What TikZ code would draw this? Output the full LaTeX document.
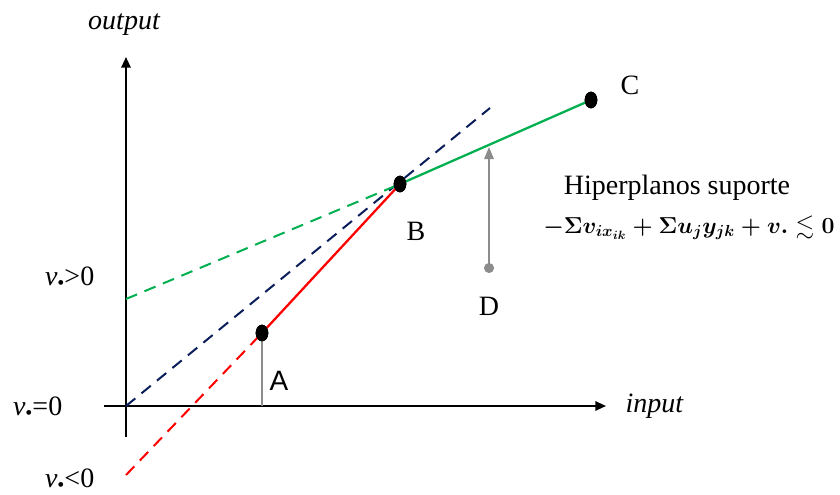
\documentclass[tikz,border=0pt]{standalone}
\usepackage{fontspec}
\setmainfont{Liberation Serif}
\setsansfont{Liberation Sans}
\usepackage{amssymb}
\usetikzlibrary{arrows.meta,shapes.geometric}
\definecolor{lineGreen}{RGB}{0,176,80}
\definecolor{lineNavy}{RGB}{10,30,90}
\definecolor{lineRed}{RGB}{255,0,0}
\definecolor{lineGray}{RGB}{140,140,140}
\newcommand{\vdot}{{\itshape v}\raisebox{-0.35ex}{\fontsize{15}{15}\selectfont •}}
\tikzset{
  axis/.style={line width=1.5pt,-{Triangle[length=8pt,width=7pt]}},
  hyper/.style={line width=1.7pt},
  hyperdash/.style={line width=1.5pt,dash pattern=on 9pt off 6pt},
  dot/.style={ellipse,fill=black,inner sep=0pt,minimum width=9.5pt,minimum height=12.5pt},
  lbl/.style={font=\fontsize{21}{21}\selectfont}
}
\begin{document}
\begin{tikzpicture}[x=0.75pt,y=-0.75pt]
  \useasboundingbox (0,0) rectangle (840,494);
  % axes
  \coordinate (o) at (126,406);
  \coordinate (ybot) at (126,437);
  \coordinate (ytop) at (126,57);
  \coordinate (xleft) at (104,406);
  \coordinate (xright) at (606,406);
  \draw[axis] (ybot) -- (ytop);
  \draw[axis] (xleft) -- (xright);
  \node[lbl,font=\fontsize{21}{21}\selectfont\itshape] (out) at (124,25) {output};
  \node[lbl,font=\fontsize{21}{21}\selectfont\itshape,anchor=west] (in) at (621,406) {input};
  % points
  \node[dot] (A) at (262,333) {};
  \node[dot] (B) at (400,184) {};
  \node[dot] (C) at (591,100) {};
  \coordinate (Afoot) at (262,406);
  \coordinate (redEnd) at (126,475);
  \coordinate (greenEnd) at (126,299);
  \coordinate (navyEnd) at (490,108);
  \coordinate (D) at (489,268);
  \coordinate (Dtip) at (489,147);
  % frontier and supporting lines
  \draw[hyperdash,lineRed] (redEnd) -- (A.center);
  \draw[hyperdash,lineNavy] (o) -- (navyEnd);
  \draw[hyperdash,lineGreen] (greenEnd) -- (B.center);
  \draw[hyper,lineRed] (A.center) -- (B.center);
  \draw[hyper,lineGreen] (B.center) -- (C.center);
  \draw[line width=2pt,lineGray] (A.center) -- (Afoot);
  \draw[line width=1.5pt,lineGray,-{Triangle[length=9pt,width=7pt]}] (D) -- (Dtip);
  \fill[lineGray] (D) circle (3.8pt);
  \node[dot] at (A) {};
  \node[dot] at (B) {};
  \node[dot] at (C) {};
  % labels
  \node[lbl,font=\fontsize{21}{21}\selectfont\sffamily] (labA) at (279,381) {A};
  \node[lbl] (labB) at (416,231) {B};
  \node[lbl] (labC) at (630,85) {C};
  \node[lbl] (labD) at (489,306) {D};
  \node[lbl,anchor=east] (vpos) at (99,278) {\vdot>0};
  \node[lbl,anchor=east] (vzero) at (67,408) {\vdot=0};
  \node[lbl,anchor=east] (vneg) at (99,480) {\vdot<0};
  \node[lbl] (hip) at (677,188) {Hiperplanos suporte};
  \node[font=\fontsize{18}{18}\selectfont\boldmath] (form) at (689,228)
    {$-\Sigma v_{ix_{ik}}+\Sigma u_j y_{jk}+v.\lesssim 0$};
\end{tikzpicture}
\end{document}
